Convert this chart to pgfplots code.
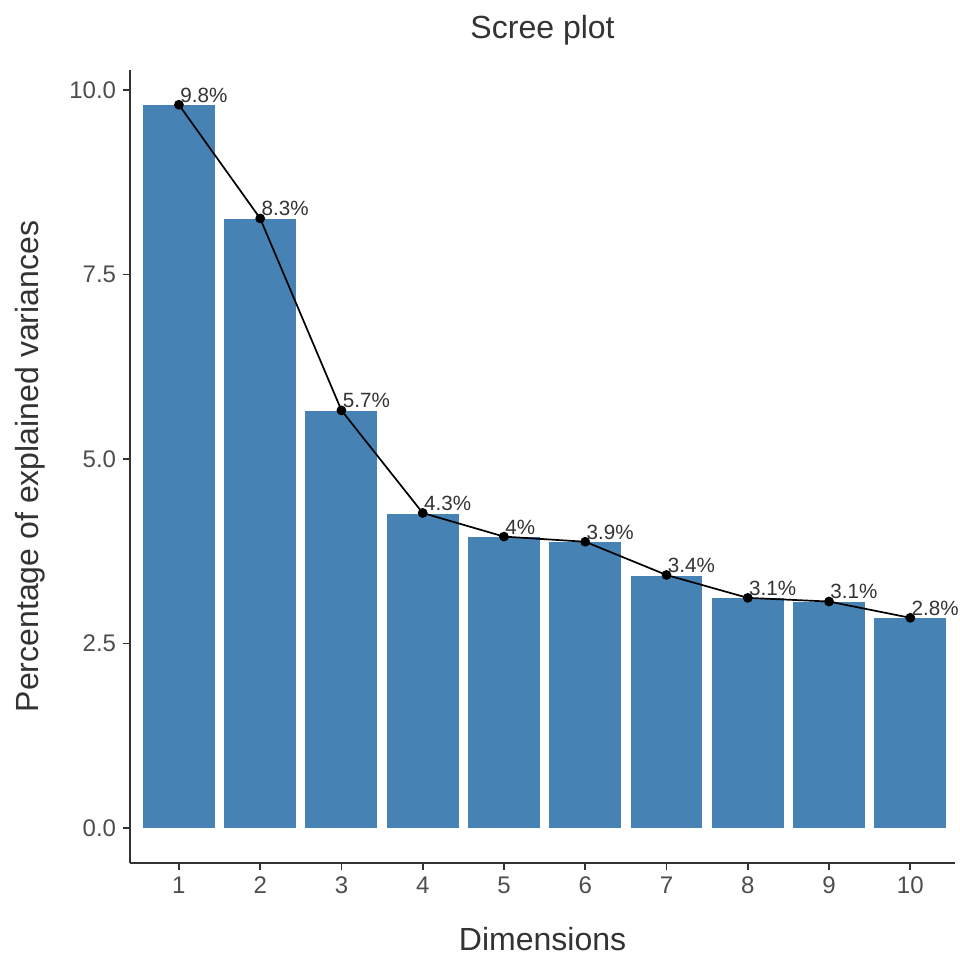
\documentclass[border=0pt]{standalone}
\usepackage{pgfplots}
\pgfplotsset{compat=1.18}
\usepackage{fontspec}
\setmainfont{Liberation Sans}
\definecolor{steel}{HTML}{4682B4}
\definecolor{txt}{HTML}{333333}
\definecolor{tick}{HTML}{4D4D4D}
\begin{document}
\begin{tikzpicture}
\begin{axis}[
    scale only axis,
    width=412pt, height=396pt,
    xmin=0.4, xmax=10.55,
    ymin=-0.47, ymax=10.27,
    axis x line*=bottom, axis y line*=left,
    axis line style={-, txt, line width=0.8pt},
    xtick={1,...,10},
    ytick={0,2.5,5,7.5,10},
    tick align=outside,
    major tick length=3.5pt,
    tick style={txt, line width=0.8pt},
    /pgf/number format/assume math mode=true,
    yticklabel style={/pgf/number format/.cd, fixed, fixed zerofill, precision=1},
    ticklabel style={font=\fontsize{12}{14}\selectfont, text=tick},
    xlabel={Dimensions},
    ylabel={Percentage of explained variances},
    label style={font=\fontsize{16}{19}\selectfont, text=txt},
    xlabel style={at={(axis description cs:0.5,-0.111)}, anchor=base, inner sep=0pt},
    ylabel style={at={(axis description cs:-0.1214,0.5)}, anchor=center},
    title={Scree plot},
    title style={font=\fontsize{16}{19}\selectfont, text=txt,
        at={(axis description cs:0.5,1.0253)}, anchor=base, inner sep=0pt},
    clip=false,
]
\addplot[ybar, bar width=0.9, fill=steel, draw=white, line width=0.6pt] coordinates {
    (1,9.80) (2,8.26) (3,5.66) (4,4.27) (5,3.95)
    (6,3.88) (7,3.43) (8,3.12) (9,3.07) (10,2.85)
};
\addplot[black, line width=0.85pt, mark=*, mark size=2pt,
    nodes near coords, point meta=explicit symbolic,
    every node near coord/.style={anchor=south west, inner sep=0.3pt, yshift=0.5pt,
        font=\fontsize{10.3}{12}\selectfont, text=txt}]
    coordinates {
    (1,9.80) [9.8\%] (2,8.26) [8.3\%] (3,5.66) [5.7\%] (4,4.27) [4.3\%] (5,3.95) [4\%]
    (6,3.88) [3.9\%] (7,3.43) [3.4\%] (8,3.12) [3.1\%] (9,3.07) [3.1\%] (10,2.85) [2.8\%]
};
\path (axis description cs:-0.1578,-0.1174) rectangle (axis description cs:1.00607,1.0884);
\end{axis}
\end{tikzpicture}
\end{document}
